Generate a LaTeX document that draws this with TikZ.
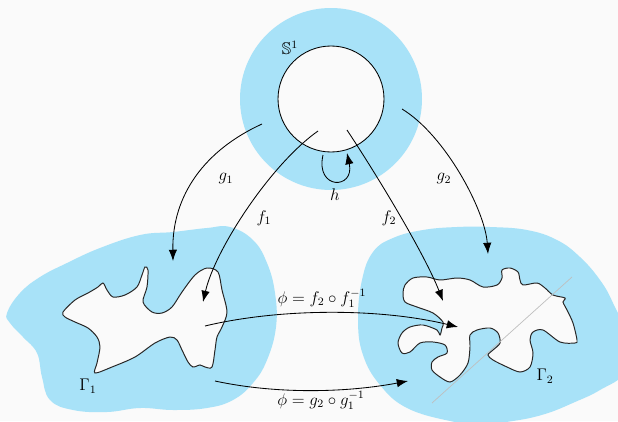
\documentclass[tikz,border=0pt]{standalone}
\usepackage{amssymb}
\usetikzlibrary{arrows.meta}
\definecolor{paper}{RGB}{250,250,250}
\definecolor{sky}{RGB}{168,226,248}

\begin{document}
\begin{tikzpicture}[
    x=0.025cm, y=-0.025cm,
    every node/.style={font=\large},
    halo/.style={fill=sky, draw=none},
    jordan/.style={fill=paper, draw=black!85, line width=0.7pt},
    maparrow/.style={-{Latex[length=8pt,width=6pt]}, line width=0.6pt},
    maplabel/.style={inner sep=1pt}
]
\useasboundingbox[fill=paper] (0,0) rectangle (618,421);

% the circle and its neighbourhood
\fill[halo, even odd rule] (331,99) circle[radius=91] (331,99) circle[radius=53];
\draw[line width=0.6pt] (331,99) circle[radius=53];
\node[maplabel] (slbl) at (290,48) {$\mathbb{S}^1$};

% neighbourhoods of the two curves
\begin{scope}
\clip (0,0) rectangle (618,421);
\fill[halo] plot[smooth cycle, tension=0.7] coordinates {
  (7,313) (20,293) (40,277) (67,263) (100,248) (140,235) (173,232)
  (207,228) (230,227) (253,240) (267,263) (275,293) (276,327)
  (267,360) (253,383) (233,400) (207,408) (173,410) (140,408)
  (107,412) (73,410) (50,400) (42,377) (37,353) (23,337) (10,323)};
\fill[halo] plot[smooth cycle, tension=0.7] coordinates {
  (358,320) (362,280) (373,252) (393,238) (423,230) (457,227)
  (490,227) (527,230) (557,240) (580,257) (600,280) (613,303)
  (628,340) (625,372) (600,390) (575,402) (545,414) (513,421)
  (480,424) (450,421) (407,408) (380,385) (363,355)};
\end{scope}

% Gamma_1
\draw[jordan] plot[smooth cycle, tension=0.5] coordinates {
  (63,312) (75,300) (88,293) (98,287) (103,283) (107,290) (113,297)
  (125,295) (137,287) (142,275) (145,267) (148,270) (147,287)
  (143,302) (152,312) (162,313) (172,307) (182,292) (195,275)
  (207,268) (218,272) (222,290) (227,312) (222,327) (217,337)
  (215,350) (212,367) (205,367) (200,365) (193,367) (188,362)
  (182,350) (177,340) (170,337) (155,343) (135,357) (112,367)
  (95,373) (97,363) (100,347) (97,337) (88,328) (75,322) (65,317)};
\node[maplabel] (gam1) at (88,386) {$\Gamma_1$};

% Gamma_2
\draw[jordan] plot[smooth cycle, tension=0.5] coordinates {
  (403,293) (405,285) (413,278) (427,277) (440,280) (457,278)
  (470,280) (483,287) (497,285) (502,278) (502,270) (510,268)
  (518,272) (520,280) (523,285) (537,283) (545,288) (553,295)
  (565,298) (563,302) (567,310) (573,323) (577,340) (575,343)
  (560,342) (543,330) (533,332) (530,340) (533,353) (530,367)
  (520,372) (507,367) (493,360) (488,355) (493,350) (500,343)
  (498,333) (490,328) (477,330) (470,335) (470,347) (468,363)
  (460,375) (450,382) (440,377) (432,370) (432,362) (438,357)
  (447,353) (445,345) (433,342) (420,343) (410,352) (402,353)
  (398,343) (402,333) (410,327) (423,325) (437,330) (440,335)
  (442,328) (443,322) (433,313) (417,307) (405,302)};
\node[maplabel] (gam2) at (545,376) {$\Gamma_2$};
\draw[black!25, line width=0.5pt] (432,403) -- (572,277);

% end points of the maps
\coordinate (g1s) at (262,124);
\coordinate (g1e) at (173,261);
\coordinate (f1s) at (318,131);
\coordinate (f1e) at (203,302);
\coordinate (f2s) at (347,130);
\coordinate (f2e) at (443,301);
\coordinate (g2s) at (402,109);
\coordinate (g2e) at (488,254);
\coordinate (hs) at (323,155);
\coordinate (he) at (347,153);
\coordinate (pfs) at (205,326);
\coordinate (pfe) at (458,327);
\coordinate (pgs) at (215,381);
\coordinate (pge) at (408,381);

\draw[maparrow] (g1s) .. controls (205,150) and (172,195) .. (g1e);
\draw[maparrow] (f1s) .. controls (270,165) and (215,250) .. (f1e);
\draw[maparrow] (f2s) .. controls (380,180) and (425,255) .. (f2e);
\draw[maparrow] (g2s) .. controls (445,135) and (485,210) .. (g2e);
\draw[maparrow] (hs) .. controls (315,190) and (355,190) .. (he);
\draw[maparrow] (pfs) .. controls (280,308) and (380,308) .. (pfe);
\draw[maparrow] (pgs) .. controls (280,395) and (350,392) .. (pge);

\node[maplabel] (g1lbl) at (226,179) {$g_1$};
\node[maplabel] (g2lbl) at (444,179) {$g_2$};
\node[maplabel] (f1lbl) at (264,218) {$f_1$};
\node[maplabel] (f2lbl) at (389,218) {$f_2$};
\node[maplabel] (hlbl) at (335,195) {$h$};
\node[maplabel] (phif) at (322,298) {$\phi = f_2\circ f_1^{-1}$};
\node[maplabel] (phig) at (321,400) {$\phi = g_2\circ g_1^{-1}$};

\end{tikzpicture}
\end{document}
